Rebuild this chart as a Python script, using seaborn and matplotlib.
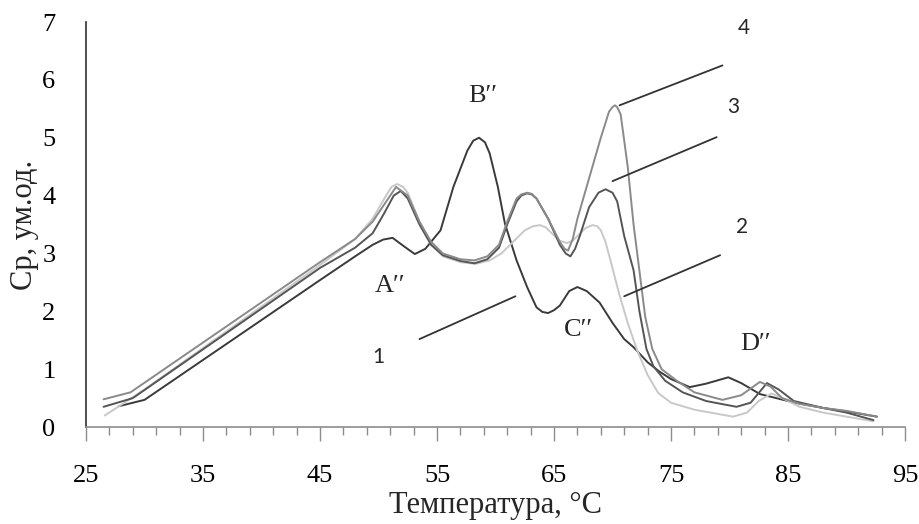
import numpy as np
import pandas as pd
import matplotlib
matplotlib.use("Agg")
import matplotlib.pyplot as plt
from matplotlib.ticker import FixedLocator
import seaborn as sns

# ---- data ----
t1 = [27.8, 30.0, 45.0, 48.0, 49.5, 50.4, 51.2, 52.2, 53.1, 54.0, 55.3, 56.4, 57.6, 58.1, 58.6,
      59.1, 59.5, 60.2, 60.8, 61.8, 62.7, 63.5, 64.0, 64.5, 65.0, 65.5, 66.3, 67.0, 67.8, 68.9,
      70.0, 71.0, 71.8, 73.0, 74.0, 75.0, 76.6, 78.0, 79.9, 81.0, 82.6, 84.0, 85.4, 88.0, 90.0, 92.6]
v1 = [0.36, 0.47, 2.54, 2.95, 3.15, 3.24, 3.27, 3.12, 2.99, 3.08, 3.40, 4.15, 4.78, 4.95, 5.00,
      4.92, 4.73, 4.15, 3.52, 2.88, 2.42, 2.07, 1.99, 1.97, 2.02, 2.10, 2.35, 2.42, 2.35, 2.15,
      1.80, 1.52, 1.38, 1.12, 0.96, 0.83, 0.69, 0.75, 0.86, 0.76, 0.57, 0.50, 0.43, 0.33, 0.27, 0.18]

t2 = [26.6, 28.5, 30.0, 45.0, 48.0, 49.5, 50.5, 51.1, 51.6, 52.1, 52.5, 53.5, 54.5, 55.5, 57.0,
      58.3, 59.5, 60.5, 61.5, 62.5, 63.2, 63.8, 64.3, 64.8, 65.5, 66.1, 66.6, 67.0, 67.7, 68.3,
      68.7, 69.0, 69.4, 69.8, 70.6, 71.3, 72.1, 73.0, 73.9, 75.0, 77.0, 80.3, 81.5, 82.5, 83.6,
      84.5, 86.0, 88.0, 90.0, 92.3]
v2 = [0.20, 0.45, 0.65, 2.80, 3.25, 3.60, 3.95, 4.15, 4.20, 4.15, 4.05, 3.55, 3.15, 2.95, 2.85,
      2.82, 2.88, 3.00, 3.20, 3.40, 3.47, 3.49, 3.45, 3.35, 3.22, 3.18, 3.22, 3.30, 3.44, 3.49,
      3.47, 3.40, 3.20, 2.90, 2.28, 1.80, 1.33, 0.90, 0.59, 0.42, 0.30, 0.18, 0.25, 0.45, 0.58,
      0.50, 0.35, 0.25, 0.18, 0.10]

t3 = [26.5, 29.0, 45.0, 48.0, 49.5, 50.5, 51.3, 51.9, 52.5, 53.5, 54.5, 55.5, 57.0, 58.2, 59.3,
      60.3, 61.0, 61.8, 62.2, 62.7, 63.1, 63.5, 64.5, 65.5, 66.0, 66.4, 66.8, 67.2, 68.0, 68.8,
      69.4, 70.0, 70.4, 71.0, 71.8, 72.3, 72.9, 73.5, 74.5, 76.0, 78.0, 80.6, 81.8, 83.2, 84.2,
      85.5, 88.0, 90.0, 92.3]
v3 = [0.35, 0.50, 2.75, 3.10, 3.35, 3.70, 4.00, 4.08, 3.95, 3.50, 3.15, 2.97, 2.87, 2.83, 2.90,
      3.10, 3.50, 3.90, 4.00, 4.04, 4.02, 3.95, 3.60, 3.15, 3.00, 2.95, 3.08, 3.30, 3.80, 4.05,
      4.11, 4.05, 3.90, 3.30, 2.71, 2.00, 1.35, 1.05, 0.80, 0.60, 0.45, 0.35, 0.42, 0.76, 0.65,
      0.45, 0.33, 0.25, 0.12]

t4 = [26.5, 28.8, 45.0, 48.0, 49.5, 50.5, 51.5, 52.5, 53.5, 54.5, 55.5, 57.0, 58.2, 59.3, 60.3,
      61.0, 61.8, 62.2, 62.7, 63.1, 63.5, 64.5, 65.5, 65.9, 66.2, 66.6, 67.0, 68.0, 69.0, 69.7,
      70.0, 70.2, 70.4, 70.7, 71.3, 71.8, 72.3, 72.8, 73.4, 74.2, 75.5, 77.0, 79.4, 81.0, 82.6,
      83.5, 84.5, 86.0, 88.0, 90.0, 92.6]
v4 = [0.48, 0.60, 2.85, 3.25, 3.55, 3.85, 4.15, 4.00, 3.55, 3.20, 3.00, 2.90, 2.88, 2.95, 3.15,
      3.55, 3.95, 4.02, 4.05, 4.03, 3.95, 3.60, 3.20, 3.08, 3.05, 3.25, 3.60, 4.30, 5.00, 5.45,
      5.53, 5.56, 5.53, 5.40, 4.50, 3.50, 2.70, 1.90, 1.35, 1.00, 0.80, 0.60, 0.47, 0.55, 0.78,
      0.70, 0.50, 0.40, 0.33, 0.28, 0.18]

series_names = ["1", "2", "3", "4"]
series_colors = ["#3a3a3a", "#c8c8c8", "#555555", "#8a8a8a"]

peak_labels = ["A′′", "B′′", "C′′", "D′′"]
peak_x = [51.0, 58.9, 67.1, 82.2]
peak_y = [2.44, 5.72, 1.68, 1.43]

num_labels = ["1", "2", "3", "4"]
num_x = [50.0, 81.1, 80.3, 81.2]
num_y = [1.21, 3.45, 5.53, 6.90]
# pointer lines (start x, start y, end x, end y)
ptr_x0 = [53.5, 71.0, 70.0, 70.6]
ptr_y0 = [1.52, 2.26, 4.25, 5.56]
ptr_x1 = [61.7, 79.2, 78.9, 79.4]
ptr_y1 = [2.26, 2.97, 5.01, 6.25]

x_ticks = [25, 35, 45, 55, 65, 75, 85, 95]
y_ticks = [0, 1, 2, 3, 4, 5, 6, 7]
x_label = "Температура, °C"
y_label = "Ср, ум.од."

# ---- build long table ----
frames = []
for name, t, v in zip(series_names, [t1, t2, t3, t4], [v1, v2, v3, v4]):
    frames.append(pd.DataFrame({"T": t, "Cp": v, "series": name}))
df = pd.concat(frames, ignore_index=True)

sns.set_theme(style="white")
serif = ["Liberation Serif", "DejaVu Serif"]
plt.rcParams["font.family"] = serif

fig = plt.figure(figsize=(9.2, 5.24), dpi=100)
ax = fig.add_axes([0.0935, 0.185, 0.8902, 0.773])

sns.lineplot(data=df, x="T", y="Cp", hue="series", units="series", estimator=None,
             sort=False, palette=dict(zip(series_names, series_colors)),
             linewidth=1.4, legend=False, ax=ax)
for line in ax.get_lines():
    line.set_solid_joinstyle("round")

ax.set_xlim(25, 95)
ax.set_ylim(0, 7)
ax.xaxis.set_major_locator(FixedLocator(x_ticks))
ax.xaxis.set_minor_locator(FixedLocator(list(np.arange(25, 96, 2))))
ax.yaxis.set_major_locator(FixedLocator(y_ticks))
ax.tick_params(axis="x", which="major", length=10, width=1, color="#8c8c8c",
               direction="out", pad=17, labelsize=19, labelcolor="black", bottom=True)
ax.tick_params(axis="x", which="minor", length=6, width=1, color="#8c8c8c",
               direction="out", bottom=True)
ax.tick_params(axis="y", length=0, pad=22, labelsize=19, labelcolor="black")

for s in ["top", "right"]:
    ax.spines[s].set_visible(False)
ax.spines["left"].set_color("#303030")
ax.spines["left"].set_linewidth(1.2)
ax.spines["bottom"].set_color("#8c8c8c")
ax.spines["bottom"].set_linewidth(1.2)

ax.set_xlabel(x_label, fontsize=22, labelpad=3)
ax.set_ylabel(y_label, fontsize=22, labelpad=2)

for lab, x, y in zip(peak_labels, peak_x, peak_y):
    ax.text(x, y, lab, fontsize=19, ha="center", va="center", family=serif)

for lab, x, y in zip(num_labels, num_x, num_y):
    ax.text(x, y, lab, fontsize=15, ha="center", va="center", family=["Lato", "DejaVu Sans"])

for a, b, c, d in zip(ptr_x0, ptr_y0, ptr_x1, ptr_y1):
    ax.plot([a, c], [b, d], color="#333333", linewidth=1.3)

fig.savefig("out.png", dpi=100)
